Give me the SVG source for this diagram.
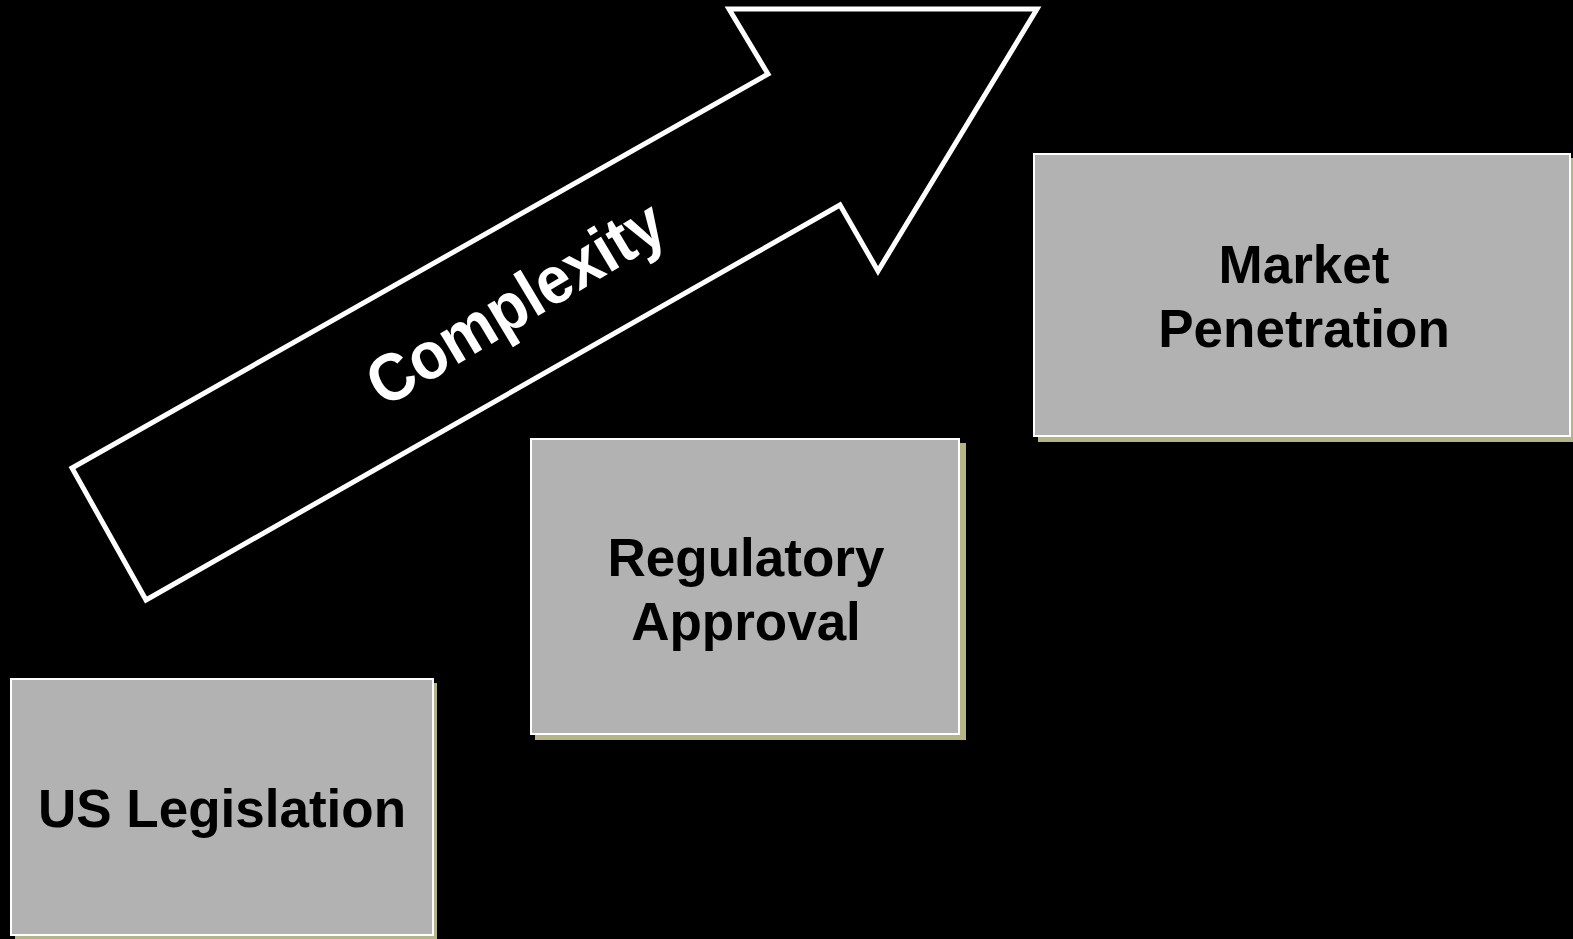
<svg xmlns="http://www.w3.org/2000/svg" width="1573" height="939" viewBox="0 0 1573 939">
<style>
.shadow{fill:#b4b486;}
.box{fill:#b2b2b2;stroke:#ffffff;stroke-width:2;}
.lbl{font-family:"Liberation Sans",Arial,sans-serif;font-weight:bold;font-size:53px;fill:#000000;text-anchor:middle;}
.arrow{fill:none;stroke:#ffffff;stroke-width:5;stroke-linejoin:miter;}
.alabel{font-family:"Liberation Sans",Arial,sans-serif;font-weight:bold;font-size:62px;fill:#ffffff;text-anchor:middle;}
</style>
<rect x="0" y="0" width="1573" height="939" fill="#000000"/>
<g id="connectors">
<g id="complexity-arrow">
<polygon class="arrow" points="146,600 72,468 768,74 729,9 1037,9 878,271 840,205"/>
<text class="alabel" transform="translate(516,304) rotate(-31) scale(1,1.08)" x="0" y="20">Complexity</text>
</g>
</g>
<g id="us-legislation">
<rect class="shadow" x="15" y="683" width="422" height="256"/>
<rect class="box" x="11" y="679" width="422" height="256"/>
<text class="lbl" x="222" y="827">US Legislation</text>
</g>
<g id="regulatory-approval">
<rect class="shadow" x="535" y="443" width="431" height="297"/>
<rect class="box" x="531" y="439" width="428" height="295"/>
<text class="lbl" x="746" y="576">Regulatory</text>
<text class="lbl" x="746" y="640">Approval</text>
</g>
<g id="market-penetration">
<rect class="shadow" x="1038" y="158" width="540" height="284"/>
<rect class="box" x="1034" y="154" width="536" height="282"/>
<text class="lbl" x="1304" y="283">Market</text>
<text class="lbl" x="1304" y="347">Penetration</text>
</g>
</svg>
